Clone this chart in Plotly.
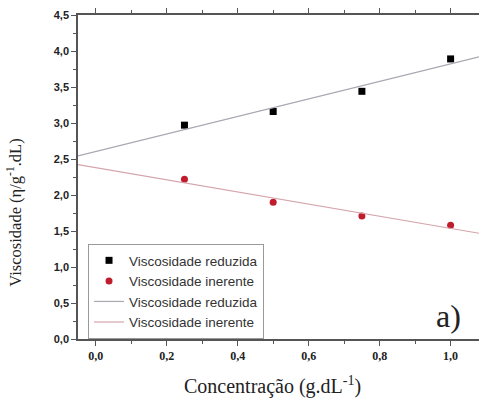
import numpy as np
import plotly.graph_objects as go

conc = [0.25, 0.50, 0.75, 1.00]
visc_reduzida = [2.97, 3.16, 3.44, 3.89]
visc_inerente = [2.22, 1.90, 1.71, 1.58]
x_range = [-0.05, 1.08]
y_ticks = [0.0, 0.5, 1.0, 1.5, 2.0, 2.5, 3.0, 3.5, 4.0, 4.5]
x_ticks = [0.0, 0.2, 0.4, 0.6, 0.8, 1.0]

# linear fits through the data
pr = np.polyfit(conc, visc_reduzida, 1)
pi = np.polyfit(conc, visc_inerente, 1)
xf = np.array(x_range)

fig = go.Figure()
fig.add_trace(go.Scatter(x=conc, y=visc_reduzida, mode="markers", name="Viscosidade reduzida",
                         marker=dict(symbol="square", size=7, color="black")))
fig.add_trace(go.Scatter(x=conc, y=visc_inerente, mode="markers", name="Viscosidade inerente",
                         marker=dict(symbol="circle", size=7, color="#c01c2c")))
fig.add_trace(go.Scatter(x=xf, y=np.polyval(pr, xf), mode="lines", name="Viscosidade reduzida",
                         line=dict(color="#a8a8b0", width=1.2)))
fig.add_trace(go.Scatter(x=xf, y=np.polyval(pi, xf), mode="lines", name="Viscosidade inerente",
                         line=dict(color="#d4a4aa", width=1.2)))

serif = "Liberation Serif, Times New Roman"
fig.update_layout(
    width=479, height=401,
    margin=dict(l=78, r=0, t=15, b=62, autoexpand=False),
    paper_bgcolor="white", plot_bgcolor="white",
    separators=", ",
    showlegend=True,
    legend=dict(x=0.025, y=0.293, xanchor="left", yanchor="top",
                bordercolor="#999", borderwidth=1, bgcolor="white",
                font=dict(family="Arial, Liberation Sans", size=13.5, color="#333"),
                tracegroupgap=0, itemwidth=30),
    xaxis=dict(range=x_range, tickvals=x_ticks, tickformat=".1f", automargin=False,
               showline=True, linecolor="#555", linewidth=1.5, mirror="allticks",
               ticks="outside", ticklen=5, tickcolor="#555", showgrid=False, zeroline=False,
               minor=dict(dtick=0.1, ticks="outside", ticklen=3, tickcolor="#555", showgrid=False),
               tickfont=dict(family=serif, size=12, color="#222", weight="bold")),
    yaxis=dict(range=[0, 4.5], tickvals=y_ticks, tickformat=".1f", automargin=False, mirror=False,
               showline=True, linecolor="#555", linewidth=1.5,
               ticks="outside", ticklen=5, tickcolor="#555", showgrid=False, zeroline=False,
               minor=dict(dtick=0.25, ticks="outside", ticklen=3, tickcolor="#555", showgrid=False),
               tickfont=dict(family="Arial, Liberation Sans", size=11, color="#222", weight="bold")),
    annotations=[
        dict(text="a)", x=0.925, y=0.071, xref="paper", yref="paper",
             showarrow=False, xanchor="center", yanchor="middle",
             font=dict(family=serif, size=32, color="#222")),
        dict(text="Concentração (g.dL<sup>-1</sup>)", x=0.486, y=-0.142, xref="paper", yref="paper",
             showarrow=False, xanchor="center", yanchor="middle",
             font=dict(family=serif, size=20, color="#222")),
        dict(text="Viscosidade (η/g<sup>-1</sup>.dL)", x=-0.157, y=0.39, xref="paper", yref="paper",
             showarrow=False, xanchor="center", yanchor="middle", textangle=-90,
             font=dict(family=serif, size=16.5, color="#222")),
    ],
)

fig.write_html(
    "out.html",
    config={"displayModeBar": False},
    post_script="document.body.style.margin='0';document.body.style.overflow='hidden';"
                "document.documentElement.style.overflow='hidden';",
)
